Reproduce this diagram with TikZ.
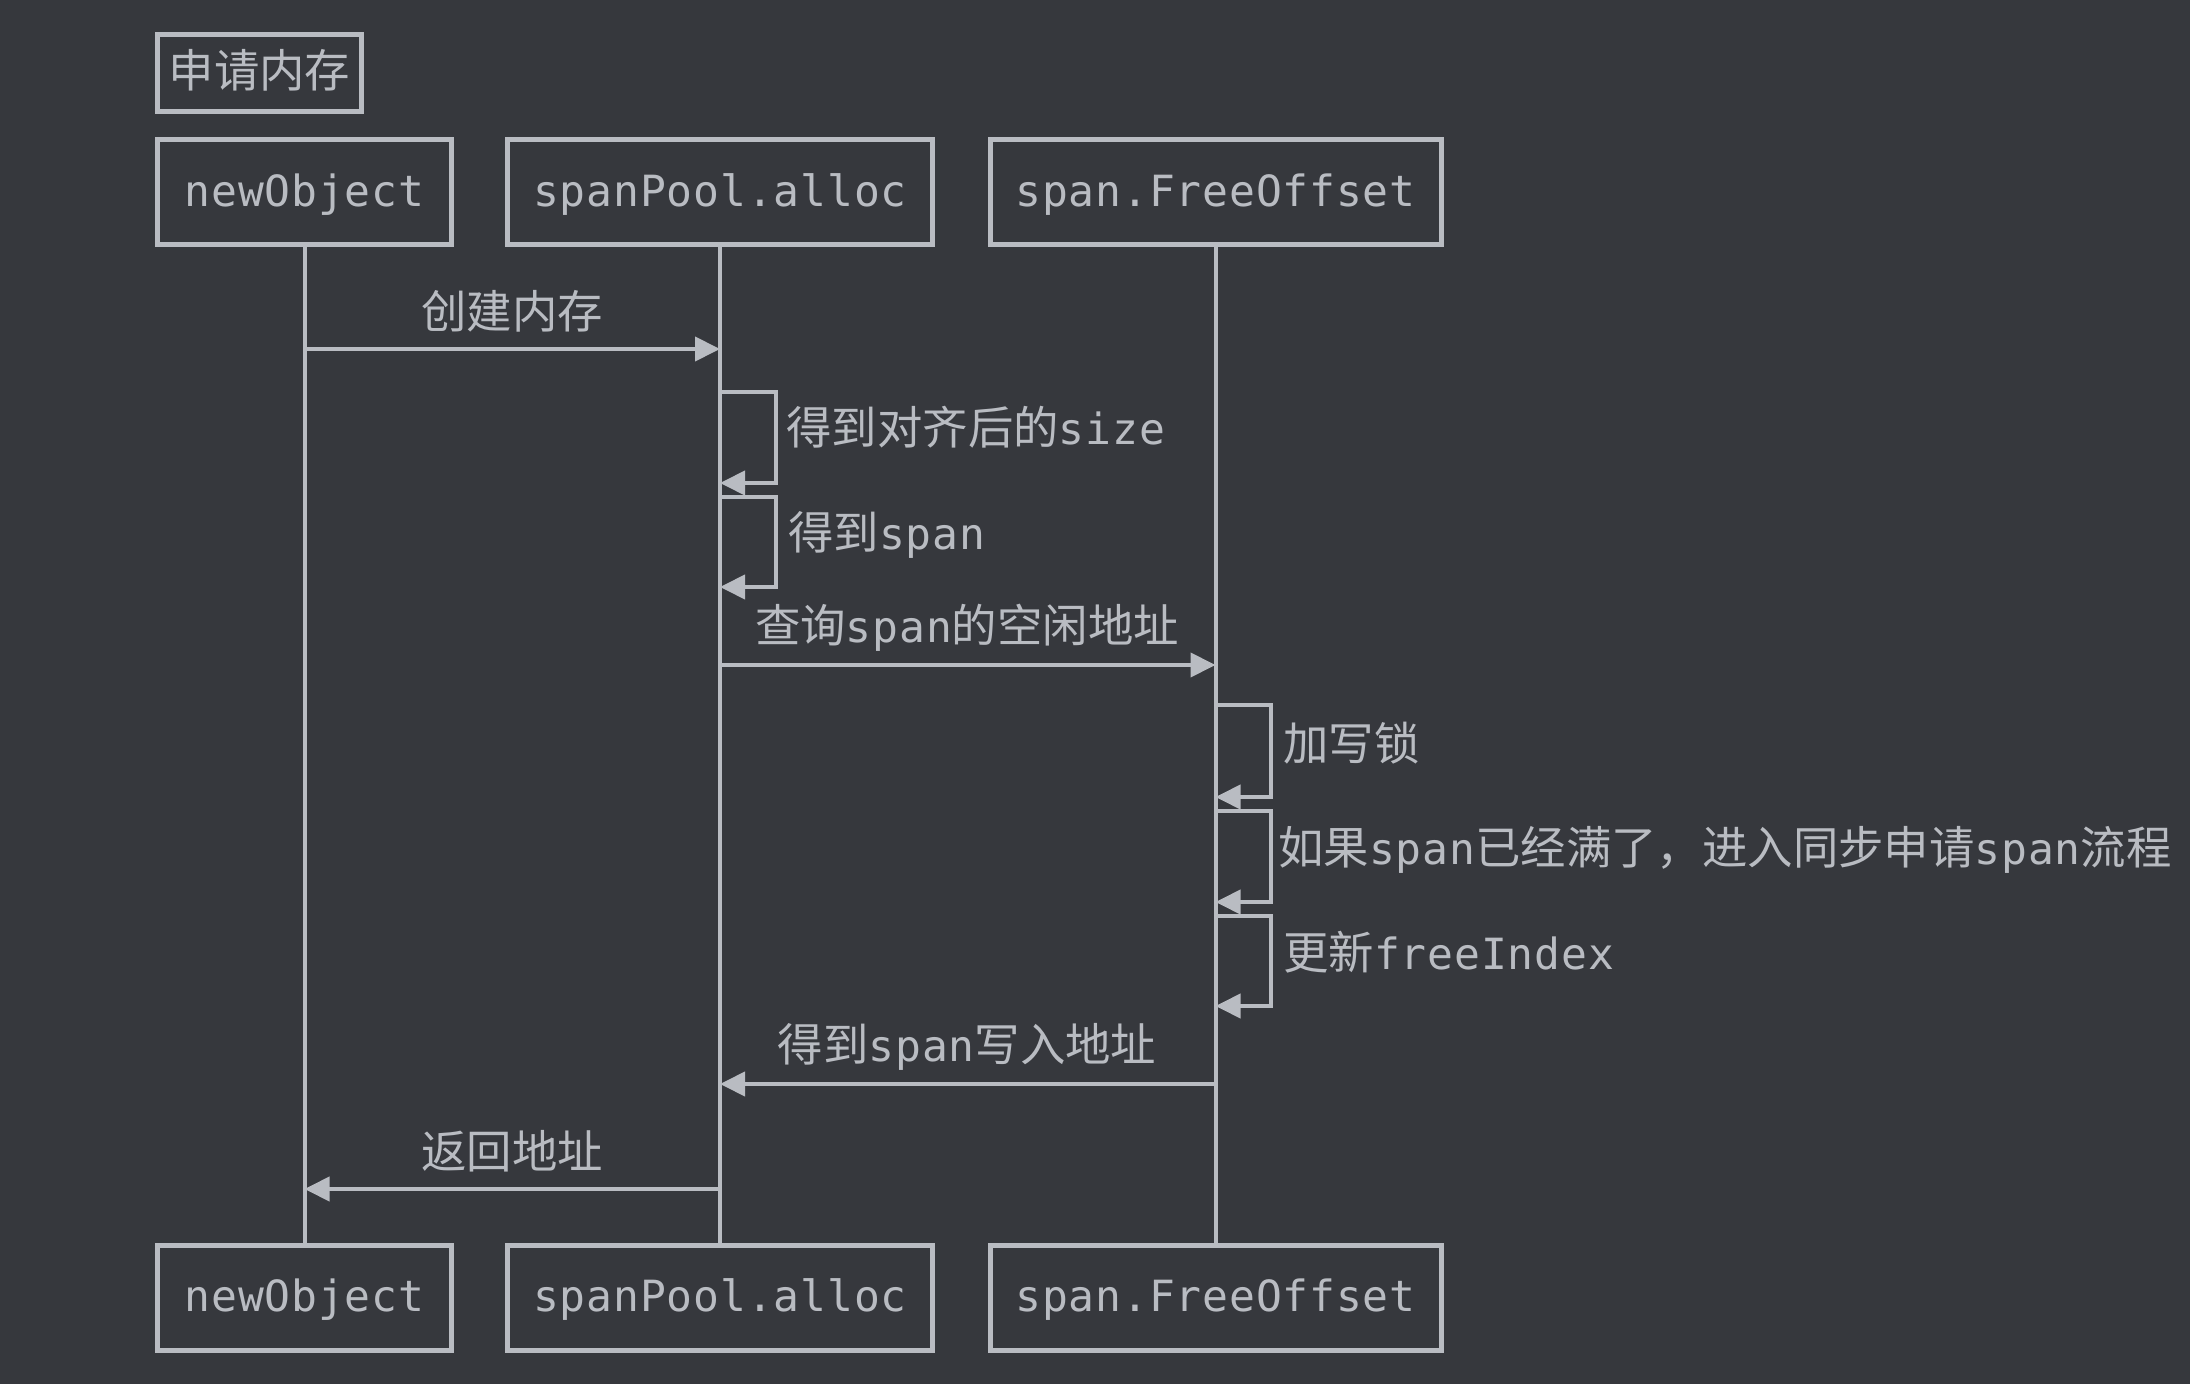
\documentclass[tikz,border=0pt]{standalone}
\usepackage{fontspec}
\setmainfont[LetterSpace=2]{DejaVu Sans Mono}
\newfontfamily\cjk{Noto Sans CJK SC}
\usetikzlibrary{arrows.meta}
\definecolor{bg}{HTML}{36383D}
\definecolor{fg}{HTML}{B9BCC2}
\newcommand\C[1]{{\cjk\fontsize{22.7pt}{25pt}\selectfont #1}}
\newcommand\lblfont{\fontsize{21.5pt}{25pt}\selectfont}
\tikzset{
  actor/.style={draw=fg, line width=2.5pt, minimum height=52.5pt, inner sep=0pt,
    text=fg, font=\lblfont, text height=1.54em, text depth=0.1em},
  lbl/.style={inner sep=0pt, text=fg, font=\lblfont, text height=1.54em, text depth=0.1em},
  life/.style={draw=fg, line width=2pt},
  msg/.style={draw=fg, line width=2pt, -{Triangle[length=12.5pt,width=12pt]}},
}
\begin{document}
\begin{tikzpicture}[x=0.5pt,y=-0.5pt]
\useasboundingbox (0,0) rectangle (2190,1384);
\fill[bg] (0,0) rectangle (2190,1384);

% title
\node[actor, minimum width=102pt, minimum height=38.5pt] (title) at (259.5,73) {\C{申请内存}};

% top actors
\node[actor, minimum width=147pt] (A) at (304.5,192) {newObject};
\node[actor, minimum width=212.5pt] (B) at (720,192) {spanPool.alloc};
\node[actor, minimum width=225.5pt] (S) at (1215.5,192) {span.FreeOffset};
% bottom actors
\node[actor, minimum width=147pt] (Ab) at (304.5,1297.5) {newObject};
\node[actor, minimum width=212.5pt] (Bb) at (720,1297.5) {spanPool.alloc};
\node[actor, minimum width=225.5pt] (Sb) at (1215.5,1297.5) {span.FreeOffset};

% lifelines
\draw[life] (A.south) -- (Ab.north);
\draw[life] (B.south) -- (Bb.north);
\draw[life] (S.south) -- (Sb.north);

% message 1
\coordinate (a1) at (304.5,349);
\coordinate (b1) at (720,349);
\draw[msg] (a1) -- (b1);
\node[lbl] (l1) at (512,314) {\C{创建内存}};

% self 1
\coordinate (b2) at (720,392);
\coordinate (b2e) at (720,483);
\draw[msg] (b2) -- ++(56,0) -- ++(0,91) -- (b2e);
\node[lbl, anchor=west] (l2) at (786,430) {\C{得到对齐后的}size};

% self 2
\coordinate (b3) at (720,497);
\coordinate (b3e) at (720,587);
\draw[msg] (b3) -- ++(56,0) -- ++(0,90) -- (b3e);
\node[lbl, anchor=west] (l3) at (788,535) {\C{得到}span};

% message 4
\coordinate (b4) at (720,665);
\coordinate (s4) at (1215.5,665);
\draw[msg] (b4) -- (s4);
\node[lbl] (l4) at (967,628) {\C{查询}span\C{的空闲地址}};

% self 3
\coordinate (s5) at (1215.5,705);
\coordinate (s5e) at (1215.5,797);
\draw[msg] (s5) -- ++(55,0) -- ++(0,92) -- (s5e);
\node[lbl, anchor=west] (l5) at (1283,746) {\C{加写锁}};

% self 4
\coordinate (s6) at (1215.5,811);
\coordinate (s6e) at (1215.5,902);
\draw[msg] (s6) -- ++(55,0) -- ++(0,91) -- (s6e);
\node[lbl, anchor=west] (l6) at (1278,850) {\C{如果}span\C{已经满了，进入同步申请}span\C{流程}};

% self 5
\coordinate (s7) at (1215.5,916);
\coordinate (s7e) at (1215.5,1006);
\draw[msg] (s7) -- ++(55,0) -- ++(0,90) -- (s7e);
\node[lbl, anchor=west] (l7) at (1283,955) {\C{更新}freeIndex};

% message 8
\coordinate (s8) at (1215.5,1084);
\coordinate (b8) at (720,1084);
\draw[msg] (s8) -- (b8);
\node[lbl] (l8) at (967,1047) {\C{得到}span\C{写入地址}};

% message 9
\coordinate (b9) at (720,1189);
\coordinate (a9) at (304.5,1189);
\draw[msg] (b9) -- (a9);
\node[lbl] (l9) at (512,1154) {\C{返回地址}};
\end{tikzpicture}
\end{document}
